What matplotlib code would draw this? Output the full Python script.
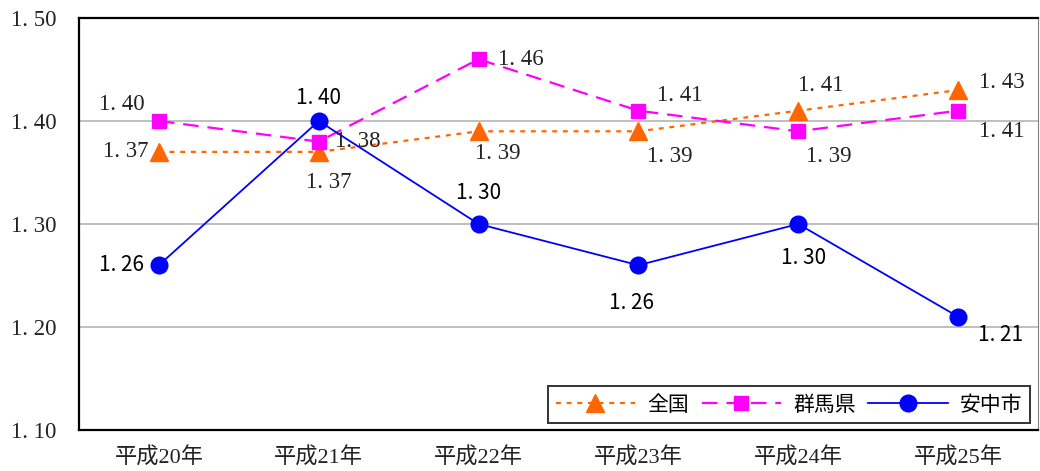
import matplotlib
matplotlib.use("Agg")
import matplotlib.pyplot as plt
from matplotlib.lines import Line2D

# Data
years = ["平成20年", "平成21年", "平成22年", "平成23年", "平成24年", "平成25年"]
national = [1.37, 1.37, 1.39, 1.39, 1.41, 1.43]
gunma = [1.40, 1.38, 1.46, 1.41, 1.39, 1.41]
annaka = [1.26, 1.40, 1.30, 1.26, 1.30, 1.21]
series_names = ["全国", "群馬県", "安中市"]
y_ticks = [1.10, 1.20, 1.30, 1.40, 1.50]

# Label offsets in pixels (dx, dy) for each point
off_national = [(-33, 0), (10, -31), (19, -22), (31, -25), (23, 25), (44, 8)]
off_gunma = [(-37, 17), (39, 0), (42, 0), (41, 15), (31, -25), (44, -21)]
off_annaka = [(-37, 0), (0, 23), (0, 31), (-7, -38), (5, -34), (42, -18)]

SERIF = ["Liberation Serif", "Noto Sans CJK JP"]
GOTHIC = ["Noto Sans CJK JP", "DejaVu Sans"]

fig = plt.figure(figsize=(10.4, 4.71), dpi=100)
ax = fig.add_axes([79 / 1040, 1 - 430 / 471, 959 / 1040, 412 / 471])

x = list(range(len(years)))

ax.plot(x, national, color="#FF6600", lw=1.6, ls=(0, (2.2, 2.6)),
        marker="^", ms=13, mec="#FF6600", mfc="#FF6600", zorder=3)
ax.plot(x, gunma, color="#FF00FF", lw=1.6, ls=(0, (7, 4)),
        marker="s", ms=9.5, mec="#FF00FF", mfc="#FF00FF", zorder=3)
ax.plot(x, annaka, color="#0000FF", lw=1.3, ls="-",
        marker="o", ms=12, mec="#0000FF", mfc="#0000FF", zorder=4)


def fmt(v):
    return f"{v:.2f}".replace(".", ". ")


for xs, vals, offs, fam, col, size in [
    (x, national, off_national, SERIF, "#222222", 16.5),
    (x, gunma, off_gunma, SERIF, "#222222", 16.5),
    (x, annaka, off_annaka, GOTHIC, "#000000", 15),
]:
    for xi, v, (dx, dy) in zip(xs, vals, offs):
        ax.annotate(fmt(v), (xi, v), xytext=(dx, dy), textcoords="offset pixels",
                    ha="center", va="center", fontsize=size, family=fam,
                    color=col, zorder=5)

ax.set_xlim(-0.5, 5.5)
ax.set_ylim(1.10, 1.50)
ax.set_yticks(y_ticks)
ax.set_yticklabels([fmt(v) for v in y_ticks], family=SERIF, fontsize=16.5, color="#222222")
ax.set_xticks(x)
ax.set_xticklabels(years, family=SERIF, fontsize=16, color="#222222")
ax.tick_params(axis="both", length=0)
ax.tick_params(axis="x", pad=13)
ax.tick_params(axis="y", pad=0)
for lbl in ax.get_yticklabels():
    lbl.set_horizontalalignment("left")
    lbl.set_x(-79 / 959 + 11 / 959)

ax.grid(axis="y", color="#BFBFBF", lw=1.4, zorder=0)
ax.set_axisbelow(True)

for side in ["left", "bottom", "top"]:
    ax.spines[side].set_linewidth(1.6)
    ax.spines[side].set_color("black")
ax.spines["right"].set_linewidth(0.8)
ax.spines["right"].set_color("#808080")

handles = [
    Line2D([], [], color="#FF6600", lw=1.6, ls=(0, (2.2, 2.6)), marker="^", ms=13),
    Line2D([], [], color="#FF00FF", lw=1.6, ls=(0, (7, 4)), marker="s", ms=9.5),
    Line2D([], [], color="#0000FF", lw=1.3, marker="o", ms=12),
]
leg = ax.legend(handles, series_names, ncol=3, loc="lower right",
                bbox_to_anchor=(1030 / 1040, 1 - 423 / 471),
                bbox_transform=fig.transFigure,
                prop={"family": GOTHIC, "size": 15}, frameon=True, fancybox=False,
                edgecolor="black", handlelength=3.8, handletextpad=0.6,
                columnspacing=0.6, borderpad=0.35, borderaxespad=0)
leg.get_frame().set_linewidth(1.4)

fig.savefig("out.png", dpi=100)
